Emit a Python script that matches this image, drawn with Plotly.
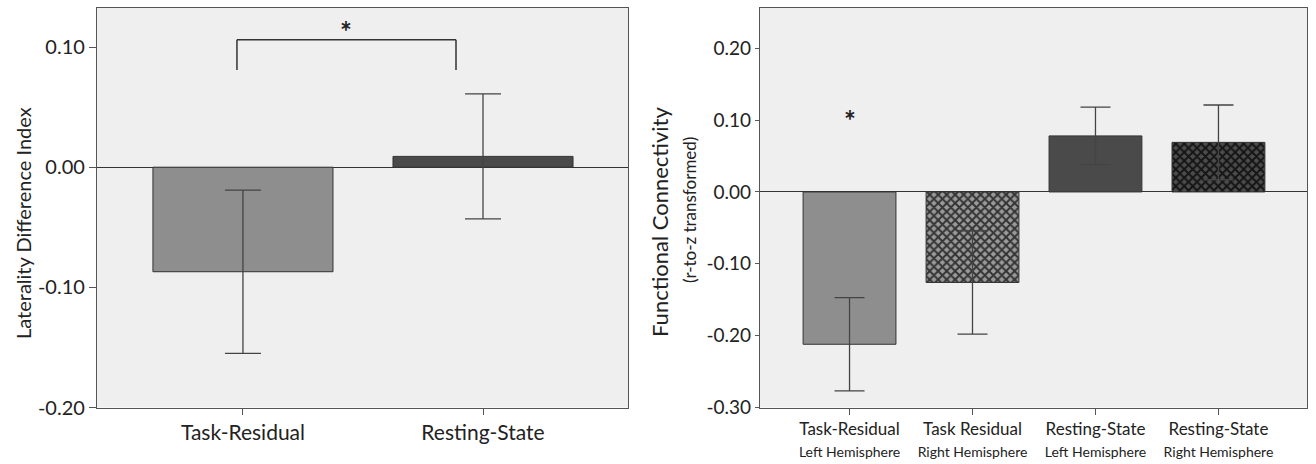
import plotly.graph_objects as go

# ---------------- data ----------------
left_categories = ["Task-Residual", "Resting-State"]
left_values = [-0.087, 0.009]
left_errors = [0.068, 0.052]
left_colors = ["#8e8e8e", "#4a4a4a"]

right_main_labels = ["Task-Residual", "Task Residual", "Resting-State", "Resting-State"]
right_sub_labels = ["Left Hemisphere", "Right Hemisphere", "Left Hemisphere", "Right Hemisphere"]
right_values = [-0.212, -0.126, 0.078, 0.069]
right_errors = [0.065, 0.072, 0.040, 0.052]
right_colors = ["#8e8e8e", "#9a9a9a", "#4a4a4a", "#4c4c4c"]
right_patterns = ["", "x", "", "x"]
right_pattern_fg = ["#8e8e8e", "#333333", "#4a4a4a", "#141414"]

left_yticks = [-0.20, -0.10, 0.00, 0.10]
right_yticks = [-0.30, -0.20, -0.10, 0.00, 0.10, 0.20]

# significance markers
bracket_low, bracket_high = 0.081, 0.106
left_star_y = 0.118
right_star_y = 0.108

FONT = "Lato"
TXT = "#222222"
PLOTBG = "#efefef"
LINE = "#555555"

fig = go.Figure()

fig.add_trace(go.Bar(
    x=list(range(len(left_values))), y=left_values, width=0.75,
    marker=dict(color=left_colors, line=dict(color="#333333", width=1)),
    error_y=dict(type="data", array=left_errors, color="#444444", thickness=1.3, width=18),
    xaxis="x", yaxis="y", showlegend=False, hoverinfo="skip",
))

for i in range(len(right_values)):
    marker = dict(color=right_colors[i], line=dict(color="#333333", width=1))
    if right_patterns[i]:
        marker["pattern"] = dict(shape=right_patterns[i], fgcolor=right_pattern_fg[i],
                                 bgcolor=right_colors[i], size=6, solidity=0.55,
                                 fillmode="replace")
    fig.add_trace(go.Bar(
        x=[i], y=[right_values[i]], width=0.755, marker=marker,
        error_y=dict(type="data", array=[right_errors[i]], color="#444444",
                     thickness=1.3, width=15),
        xaxis="x2", yaxis="y2", showlegend=False, hoverinfo="skip",
    ))

ydom = [1 - 407.5 / 464, 1 - 8 / 464]

common_axis = dict(showline=True, mirror=True, linecolor=LINE, linewidth=1.2,
                   showgrid=False, ticks="outside", tickcolor=LINE, automargin=False)

fig.update_layout(
    width=1316, height=464,
    margin=dict(l=0, r=0, t=0, b=0, autoexpand=False),
    paper_bgcolor="white",
    plot_bgcolor=PLOTBG,
    barmode="overlay",
    xaxis=dict(common_axis, domain=[97 / 1316, 628 / 1316], anchor="y",
               range=[-0.608, 1.604], tickvals=[0, 1], ticktext=left_categories,
               ticklen=6, zeroline=False,
               tickfont=dict(family=FONT, color=TXT, size=21)),
    yaxis=dict(common_axis, domain=ydom, anchor="x",
               range=[-0.20, 0.1325], tickvals=left_yticks,
               ticktext=[f"{v:.2f}" for v in left_yticks], ticklen=7,
               zeroline=True, zerolinecolor="#333333", zerolinewidth=1.2,
               tickfont=dict(family=FONT, color=TXT, size=20)),
    xaxis2=dict(common_axis, domain=[760 / 1316, 1307 / 1316], anchor="y2",
                range=[-0.728, 3.72], tickvals=[0, 1, 2, 3],
                ticktext=[f"{a}<br><span style='font-size:14px'>{b}</span>"
                          for a, b in zip(right_main_labels, right_sub_labels)],
                ticklen=6, zeroline=False,
                tickfont=dict(family=FONT, color=TXT, size=17)),
    yaxis2=dict(common_axis, domain=ydom, anchor="x2",
                range=[-0.30, 0.256], tickvals=right_yticks,
                ticktext=[f"{v:.2f}" for v in right_yticks], ticklen=4,
                zeroline=True, zerolinecolor="#333333", zerolinewidth=1.2,
                tickfont=dict(family=FONT, color=TXT, size=19)),
)

# significance bracket (left panel)
bx0, bx1 = -0.025, 0.8875
for (x0, y0, x1, y1) in [(bx0, bracket_low, bx0, bracket_high),
                         (bx0, bracket_high, bx1, bracket_high),
                         (bx1, bracket_high, bx1, bracket_low)]:
    fig.add_shape(type="line", xref="x", yref="y", x0=x0, y0=y0, x1=x1, y1=y1,
                  line=dict(color="#333333", width=1.5))

fig.add_annotation(x=(bx0 + bx1) / 2, y=left_star_y, xref="x", yref="y", text="<b>*</b>",
                   xanchor="center", yanchor="middle",
                   showarrow=False, font=dict(family=FONT, size=28, color=TXT), yshift=-6)
fig.add_annotation(x=0, y=right_star_y, xref="x2", yref="y2", text="<b>*</b>",
                   xanchor="center", yanchor="middle",
                   showarrow=False, font=dict(family=FONT, size=28, color=TXT), yshift=-6)

# axis titles
fig.add_annotation(x=23 / 1316, y=1 - 223 / 464, xref="paper", yref="paper",
                   xanchor="center", yanchor="middle",
                   text="Laterality Difference Index", textangle=-90, showarrow=False,
                   font=dict(family=FONT, size=20, color=TXT))
fig.add_annotation(x=659 / 1316, y=1 - 222 / 464, xref="paper", yref="paper",
                   xanchor="center", yanchor="middle",
                   text="Functional Connectivity", textangle=-90, showarrow=False,
                   font=dict(family=FONT, size=22, color=TXT))
fig.add_annotation(x=689 / 1316, y=1 - 210 / 464, xref="paper", yref="paper",
                   xanchor="center", yanchor="middle",
                   text="(r-to-z transformed)", textangle=-90, showarrow=False,
                   font=dict(family=FONT, size=17, color=TXT))

fig.write_html("out.html", config={"displayModeBar": False},
               post_script="document.body.style.margin='0';")
